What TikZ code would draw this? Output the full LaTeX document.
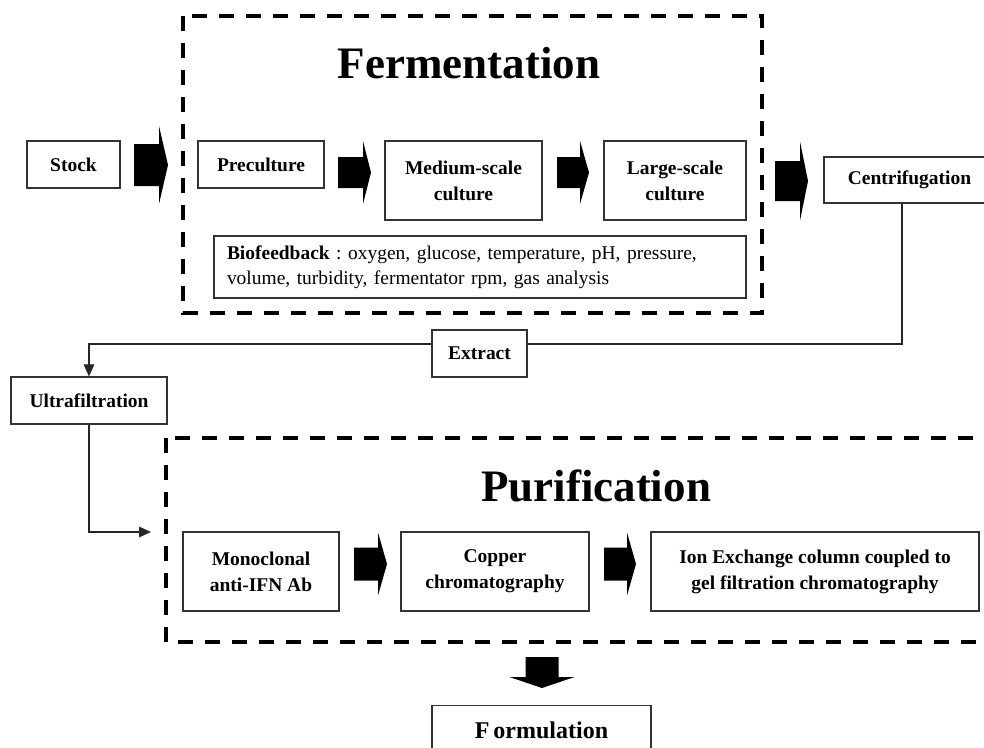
\documentclass[tikz,border=0pt]{standalone}
\usepackage{fontspec}
\setmainfont{Liberation Serif}
\usetikzlibrary{arrows.meta}
\frenchspacing

% right-pointing block arrow: x start, x head base, x tip, y centre, half body, half head
\newcommand\blockRight[6]{%
  \fill[blockfill] (#1,#4-#5) -- (#2,#4-#5) -- (#2,#4-#6) -- (#3,#4)
    -- (#2,#4+#6) -- (#2,#4+#5) -- (#1,#4+#5) -- cycle;}
% downward block arrow: y start, y head base, y tip, x centre, half body, half head
\newcommand\blockDown[6]{%
  \fill[blockfill] (#4-#5,#1) -- (#4-#5,#2) -- (#4-#6,#2) -- (#4,#3)
    -- (#4+#6,#2) -- (#4+#5,#2) -- (#4+#5,#1) -- cycle;}

\begin{document}
\begin{tikzpicture}[x=0.75pt,y=-0.75pt,
  box/.style={draw=black!80, line width=0.9pt, fill=white, align=center,
    font=\bfseries\fontsize{14.6}{19.5}\selectfont, inner sep=0pt},
  stagebox/.style={draw=black, line width=3pt, dash pattern=on 11.25pt off 9pt},
  stagetitle/.style={font=\bfseries\fontsize{33.75}{40}\selectfont, anchor=base, inner sep=0pt},
  link/.style={draw=black!85, line width=0.8pt},
  linktip/.style={-{Triangle[length=9pt,width=8pt]}},
  blockfill/.style={fill=black}]
\useasboundingbox (0,0) rectangle (984,747);
\clip (0,0) rectangle (984,747);

% fermentation stage
\draw[stagebox] (183,16) rectangle (762,313);
\node[stagetitle] (ferm) at (469,78) {Fermentation};

\node[box, minimum width=69.75pt, minimum height=35.25pt] (stock) at (73.5,164.5) {Stock};
\node[box, minimum width=94.5pt, minimum height=35.25pt] (pre) at (261,164.5) {Preculture};
\node[box, minimum width=117.75pt, minimum height=59.25pt] (medium) at (463.5,180.5) {Medium-scale\\culture};
\node[box, minimum width=106.5pt, minimum height=59.25pt] (large) at (675,180.5) {Large-scale\\culture};
\node[box, minimum width=128.25pt, minimum height=34.5pt] (centri) at (909.5,180) {Centrifugation};
\node[box, minimum width=399pt, minimum height=46.5pt, text width=379.5pt, align=left,
  font=\fontsize{14.6}{18.75}\selectfont] (bio) at (480,267)
  {\textbf{Biofeedback} : oxygen, glucose, temperature, pH, pressure,\\
   volume, turbidity, fermentator rpm, gas analysis};

\blockRight{134}{159}{168}{165}{21}{39}
\blockRight{338}{363}{371}{172.5}{15.5}{31.5}
\blockRight{557}{580}{589}{172.5}{15.5}{31.5}
\blockRight{775}{800}{808}{181}{20}{39.5}

% extraction path
\node[box, minimum width=71.25pt, minimum height=35.25pt] (extract) at (479.5,353.5) {Extract};
\node[box, minimum width=117pt, minimum height=35.25pt] (ultra) at (89,400.5) {Ultrafiltration};
\coordinate (turn) at (902,344);
\coordinate (purin) at (151,532);
\draw[link] (centri.south -| turn) -- (turn) -- (extract.east |- turn);
\draw[link, linktip] (extract.west |- turn) -| (ultra.north);
\draw[link, linktip] (ultra.south) |- (purin);

% purification stage
\draw[stagebox] (166,438) rectangle (1000,642);
\node[stagetitle] (puri) at (596,501) {Purification};

\node[box, minimum width=117pt, minimum height=59.25pt] (mono) at (261,571.5) {Monoclonal\\anti-IFN Ab};
\node[box, minimum width=141pt, minimum height=59.25pt] (copper) at (495,571.5) {Copper\\chromatography};
\node[box, minimum width=246pt, minimum height=59.25pt] (ion) at (815,571.5) {Ion Exchange column coupled to\\gel filtration chromatography};

\blockRight{354}{378}{387}{564}{16.5}{31.5}
\blockRight{604}{627}{636}{564}{16.5}{31.5}

% formulation
\blockDown{657}{677}{688}{542}{16.5}{32.5}
\node[box, anchor=north, minimum width=164.25pt, minimum height=37.5pt,
  font=\bfseries\fontsize{18}{22}\selectfont] (form) at (541.5,705) {F\kern3pt ormulation};
\end{tikzpicture}
\end{document}
